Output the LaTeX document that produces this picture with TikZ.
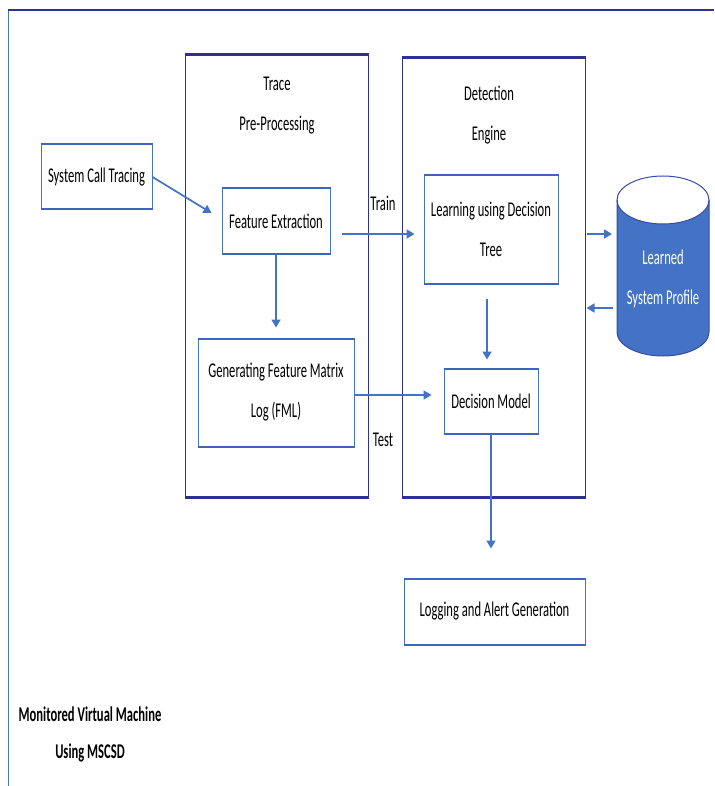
\documentclass[tikz,border=0pt]{standalone}
\usepackage{fontspec}
\setmainfont{Carlito}[FakeStretch=0.6]
\usetikzlibrary{arrows.meta}
\definecolor{obl}{HTML}{4472C4}
\definecolor{nav}{HTML}{2E3192}
\begin{document}
\begin{tikzpicture}[x=1pt,y=-1pt,
  box/.style={draw=obl,line width=1pt,fill=white,align=center,inner sep=2pt,font=\fontsize{21}{40}\selectfont},
  cont/.style={draw=nav,line width=1pt},
  arr/.style={draw=obl,line width=1.7pt,-{Triangle[length=8pt,width=9pt]}},
  lbl/.style={font=\fontsize{21}{40}\selectfont,align=center}]
\useasboundingbox (0,0) rectangle (714,786);
\fill[white] (0,0) rectangle (714,786);
% outer frame
\draw[obl,line width=1pt] (8,10) -- (8,786);
\draw[nav,line width=2.5pt] (8,10) -- (714,10);
% containers
\node[cont,minimum width=183pt,minimum height=442pt] (tr) at (276.5,276) {};
\node[cont,minimum width=183pt,minimum height=439pt] (de) at (493.5,277.5) {};
\foreach \n in {tr,de}
  \draw[nav,line width=2.2pt] (\n.north west) -- (\n.north east) (\n.south west) -- (\n.south east);
\node[lbl] (trl) at (277,106) {Trace\\Pre-Processing};
\node[lbl] (del) at (489,115) {Detection\\Engine};
% boxes
\node[box,minimum width=111pt,minimum height=64pt] (sct) at (96.5,177) {System Call Tracing};
\node[box,minimum width=108pt,minimum height=64pt] (fe) at (276,221) {Feature Extraction};
\node[box,minimum width=156pt,minimum height=107pt] (fml) at (276,392.5) {Generating Feature Matrix\\Log (FML)};
\node[box,minimum width=134pt,minimum height=107pt] (ldt) at (491,229.5) {Learning using Decision\\Tree};
\node[box,minimum width=94pt,minimum height=64pt] (dm) at (491,401) {Decision Model};
\node[box,minimum width=181pt,minimum height=65pt] (log) at (494.5,611.5) {Logging and Alert Generation};
\foreach \n in {sct,fe,fml,ldt,dm,log}
  \draw[obl!80!nav,line width=2pt] (\n.north west) -- (\n.north east) (\n.south west) -- (\n.south east);
% cylinder
\fill[obl] (617,200) -- (617,332) arc[start angle=180,end angle=360,x radius=46,y radius=-24] -- (709,200) arc[start angle=0,end angle=180,x radius=46,y radius=24] -- cycle;
\draw[nav!60!obl,line width=1pt] (617,200) -- (617,332) arc[start angle=180,end angle=360,x radius=46,y radius=-24] -- (709,200);
\draw[nav!60!obl,line width=1pt] (663,200) ellipse[x radius=46,y radius=24];
\node[lbl,text=white] (lsp) at (663,279) {Learned\\System Profile};
% labels
\node[lbl] (train) at (383,203) {Train};
\node[lbl] (test) at (383,440) {Test};
\node[lbl,font=\bfseries\fontsize{21}{37}\selectfont] (mvm) at (90,734.5) {Monitored Virtual Machine\\Using MSCSD};
% arrows
\draw[arr] (sct.east) -- ([xshift=-10pt,yshift=8pt]fe.west);
\draw[arr] ([xshift=11pt,yshift=-13pt]fe.east) -- ([xshift=-9pt,yshift=-4.5pt]ldt.west);
\draw[arr] (fe.south) -- ([yshift=11pt]fml.north);
\draw[arr] ([yshift=-2.5pt]fml.east) -- ([xshift=-12pt,yshift=6pt]dm.west);
\draw[arr] ([xshift=-4pt,yshift=-15pt]ldt.south) -- ([xshift=-4pt,yshift=9pt]dm.north);
\draw[arr] (dm.south) -- ([yshift=30pt]log.north -| dm.south);
\coordinate (c1) at (612,234);
\coordinate (c2) at (613,308);
\draw[arr] ([xshift=1pt]c1 -| de.east) -- (c1);
\draw[arr] (c2) -- ([xshift=1pt]c2 -| de.east);
\end{tikzpicture}
\end{document}
